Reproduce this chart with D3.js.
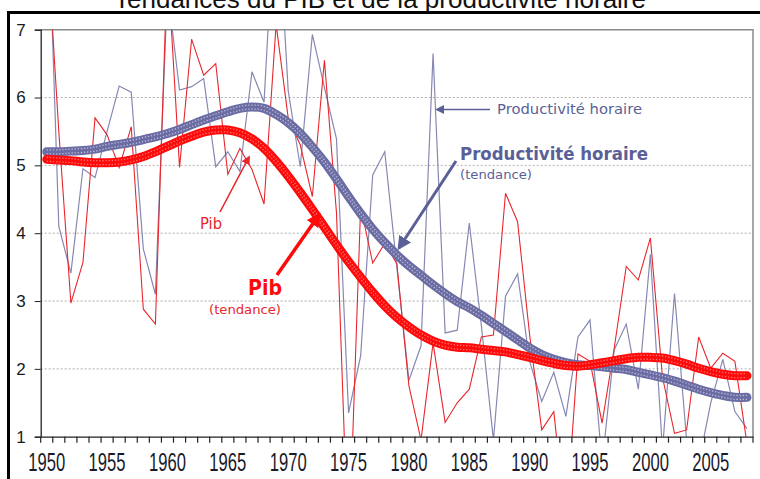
<!DOCTYPE html>
<html><head><meta charset="utf-8">
<script src="https://cdn.jsdelivr.net/npm/d3@7"></script>
<style>body{margin:0;background:#fff;} svg{display:block;}</style>
</head><body>
<svg id="c" width="760" height="479"></svg>
<script>
const title = "Tendances du PIB et de la productivité horaire";
const years = [1950,1951,1952,1953,1954,1955,1956,1957,1958,1959,
  1960,1961,1962,1963,1964,1965,1966,1967,1968,1969,
  1970,1971,1972,1973,1974,1975,1976,1977,1978,1979,
  1980,1981,1982,1983,1984,1985,1986,1987,1988,1989,
  1990,1991,1992,1993,1994,1995,1996,1997,1998,1999,
  2000,2001,2002,2003,2004,2005,2006,2007,2008];
const xTickLabels = [1950,1955,1960,1965,1970,1975,1980,1985,1990,1995,2000,2005];
const yTickLabels = [1,2,3,4,5,6,7];

// Pib (annual)
const pib = [8.4,5.5,2.97,3.57,5.70,5.45,4.97,5.57,2.88,2.66,
  8.0,4.97,6.86,6.33,6.50,4.87,5.25,4.94,4.43,7.08,
  5.70,5.30,4.54,6.55,4.30,-0.8,4.39,3.56,3.85,3.55,
  1.75,0.95,2.38,1.21,1.50,1.70,2.47,2.50,4.59,4.17,
  2.50,1.10,1.37,-0.3,2.22,2.11,1.20,2.30,3.51,3.31,
  3.93,1.88,1.05,1.10,2.47,2.01,2.23,2.11,0.90];
// Productivité horaire (annual)
const prod = [9.5,4.10,3.41,4.95,4.82,5.50,6.17,6.08,3.77,3.10,
  7.6,6.11,6.16,6.28,4.98,5.20,4.91,6.38,5.93,9.2,
  6.10,4.98,6.93,6.15,5.39,1.35,2.19,4.86,5.20,3.50,
  1.83,2.34,6.65,2.53,2.57,4.15,2.64,0.95,3.07,3.40,
  2.11,1.52,1.95,1.30,2.47,2.72,0.60,2.28,2.66,1.70,
  3.69,0.80,3.11,0.95,0.60,1.50,2.14,1.37,1.12];
// Pib (tendance)
const pibTrend = [5.09,5.08,5.07,5.05,5.04,5.04,5.05,5.08,5.13,5.20,
  5.28,5.36,5.43,5.49,5.52,5.52,5.48,5.39,5.25,5.06,
  4.84,4.60,4.35,4.09,3.83,3.58,3.35,3.13,2.93,2.76,
  2.62,2.50,2.41,2.35,2.32,2.31,2.29,2.27,2.25,2.21,
  2.17,2.12,2.08,2.05,2.04,2.06,2.09,2.12,2.15,2.17,
  2.17,2.16,2.12,2.07,2.01,1.96,1.92,1.90,1.90];
// Productivité horaire (tendance)
const prodTrend = [5.20,5.20,5.21,5.22,5.24,5.28,5.31,5.34,5.38,5.42,
  5.47,5.53,5.60,5.67,5.73,5.79,5.84,5.86,5.84,5.75,
  5.63,5.47,5.27,5.05,4.80,4.54,4.29,4.06,3.86,3.68,
  3.52,3.38,3.24,3.11,2.99,2.90,2.79,2.67,2.55,2.43,
  2.31,2.21,2.14,2.09,2.06,2.05,2.03,2.01,1.99,1.95,
  1.91,1.87,1.82,1.76,1.70,1.65,1.61,1.58,1.58];

const svg = d3.select("#c");
const L = 40.7, R = 753, T = 29.7, B = 436.7;
const x = d3.scaleBand().domain(years).range([L, R]).padding(0);
const y = d3.scaleLinear().domain([1, 7]).range([B, T]);
const cx = d => x(d) + x.bandwidth() / 2;

const RED = "#e8262c", REDT = "#ff0a0a", BLUE = "#8688b2", BLUET = "#6a6ca3", BLUETXT = "#5b5f97";

// defs
const defs = svg.append("defs");
defs.append("clipPath").attr("id", "plot").append("rect")
  .attr("x", L).attr("y", T).attr("width", R - L).attr("height", B - T);
function marker(id, color, size) {
  defs.append("marker").attr("id", id).attr("viewBox", "0 0 10 10")
    .attr("refX", 8).attr("refY", 5).attr("markerUnits", "userSpaceOnUse")
    .attr("markerWidth", size).attr("markerHeight", size).attr("orient", "auto")
    .append("path").attr("d", "M0,0 L10,5 L0,10 z").attr("fill", color);
}
marker("mRedS", RED, 9);
marker("mRedB", REDT, 14);
marker("mBlueS", BLUETXT, 9);
marker("mBlueB", BLUETXT, 14);

// title (partly cut at top, as in the original image)
svg.append("text").attr("x", 380).attr("y", 8).attr("text-anchor", "middle")
  .style("font-family", "'Liberation Sans', Arial, sans-serif").style("font-size", "26px")
  .attr("fill", "#111").attr("textLength", 532).attr("lengthAdjust", "spacingAndGlyphs").text(title);

// outer frame
svg.append("path").attr("d", "M8.5,479 V12.5 H760").attr("fill", "none")
  .attr("stroke", "#000").attr("stroke-width", 3);

// gridlines
svg.append("g").selectAll("line").data(yTickLabels.filter(v => v > 1 && v < 7)).join("line")
  .attr("x1", L).attr("x2", R).attr("y1", d => y(d)).attr("y2", d => y(d))
  .attr("stroke", "#9a9a9a").attr("stroke-width", 0.8).attr("stroke-dasharray", "2,2");
// top and right border
svg.append("path").attr("d", `M${L},${y(7)} H${R} V${B}`).attr("fill", "none")
  .attr("stroke", "#8a8a8a").attr("stroke-width", 1.5);

const plot = svg.append("g").attr("clip-path", "url(#plot)");
const lineGen = arr => d3.line().x((d, i) => cx(years[i])).y(d => y(d))(arr);
const smoothGen = arr => d3.line().curve(d3.curveCatmullRom.alpha(0.5)).x((d, i) => cx(years[i])).y(d => y(d))(arr);

plot.append("path").attr("d", lineGen(prod)).attr("fill", "none").attr("stroke", BLUE).attr("stroke-width", 1.2);
plot.append("path").attr("d", lineGen(pib)).attr("fill", "none").attr("stroke", RED).attr("stroke-width", 1.1);

function trend(arr, color, dot) {
  const d = smoothGen(arr);
  const g = plot.append("g");
  g.append("path").attr("d", d).attr("fill", "none").attr("stroke", color).attr("stroke-width", 9).attr("stroke-linecap", "round");
  [-2, 2].forEach(o => {
    g.append("path").attr("d", d).attr("transform", `translate(0,${o})`).attr("fill", "none")
      .attr("stroke", dot).attr("stroke-width", 1.3).attr("stroke-dasharray", "1.3,1.8").attr("opacity", 0.55);
  });
}
trend(prodTrend, BLUET, "#ffffff");
trend(pibTrend, REDT, "#ffc8c8");

// axes
const gx = svg.append("g").attr("transform", `translate(0,${B})`)
  .call(d3.axisBottom(x).tickValues(xTickLabels).tickSize(0).tickPadding(0));
gx.select(".domain").attr("stroke", "#222").attr("stroke-width", 1.3);
gx.selectAll("text").attr("y", 34).attr("dy", null)
  .style("font-family", "'Liberation Sans', Arial, sans-serif").style("font-size", "25px")
  .attr("fill", "#1a1a2a").attr("textLength", 37).attr("lengthAdjust", "spacingAndGlyphs");
svg.append("g").selectAll("line").data(years.concat([null])).join("line")
  .attr("x1", d => d === null ? R : x(d)).attr("x2", d => d === null ? R : x(d))
  .attr("y1", B).attr("y2", B + 6).attr("stroke", "#222").attr("stroke-width", 1.2);

const gy = svg.append("g").attr("transform", `translate(${L},0)`)
  .call(d3.axisLeft(y).tickValues(yTickLabels).tickSize(6).tickPadding(9).tickFormat(d3.format("d")));
gy.select(".domain").attr("stroke", "#222").attr("stroke-width", 1.3);
gy.selectAll(".tick line").attr("stroke", "#222");
gy.selectAll("text").style("font-family", "'Liberation Sans', Arial, sans-serif").style("font-size", "17px").attr("fill", "#1a1a1a");

// annotations
const ann = svg.append("g");
ann.append("text").attr("x", 497).attr("y", 113.5).attr("fill", BLUETXT)
  .style("font-family", "'DejaVu Sans', Verdana, sans-serif").style("font-size", "14.5px")
  .attr("textLength", 145).attr("lengthAdjust", "spacingAndGlyphs").text("Productivité horaire");
ann.append("line").attr("x1", 490).attr("y1", 109.5).attr("x2", 437).attr("y2", 109.5)
  .attr("stroke", BLUETXT).attr("stroke-width", 1.6).attr("marker-end", "url(#mBlueS)");

ann.append("text").attr("x", 460).attr("y", 159.5).attr("fill", BLUETXT)
  .style("font-family", "'DejaVu Sans', Verdana, sans-serif").style("font-size", "17px").style("font-weight", "bold")
  .attr("textLength", 188).attr("lengthAdjust", "spacingAndGlyphs").text("Productivité horaire");
ann.append("text").attr("x", 460).attr("y", 179).attr("fill", BLUETXT)
  .style("font-family", "'DejaVu Sans', Verdana, sans-serif").style("font-size", "13px")
  .attr("textLength", 72).attr("lengthAdjust", "spacingAndGlyphs").text("(tendance)");
ann.append("line").attr("x1", 456).attr("y1", 161).attr("x2", 399).attr("y2", 248)
  .attr("stroke", BLUETXT).attr("stroke-width", 3).attr("marker-end", "url(#mBlueB)");

ann.append("text").attr("x", 200).attr("y", 229).attr("fill", RED)
  .style("font-family", "'DejaVu Sans', Verdana, sans-serif").style("font-size", "15px")
  .attr("textLength", 22).attr("lengthAdjust", "spacingAndGlyphs").text("Pib");
ann.append("line").attr("x1", 220).attr("y1", 212).attr("x2", 249).attr("y2", 157)
  .attr("stroke", RED).attr("stroke-width", 1.6).attr("marker-end", "url(#mRedS)");

ann.append("text").attr("x", 248).attr("y", 295).attr("fill", REDT)
  .style("font-family", "'DejaVu Sans', Verdana, sans-serif").style("font-size", "22px").style("font-weight", "bold")
  .attr("textLength", 34).attr("lengthAdjust", "spacingAndGlyphs").text("Pib");
ann.append("text").attr("x", 209).attr("y", 313.5).attr("fill", RED)
  .style("font-family", "'DejaVu Sans', Verdana, sans-serif").style("font-size", "13px")
  .attr("textLength", 72).attr("lengthAdjust", "spacingAndGlyphs").text("(tendance)");
ann.append("line").attr("x1", 277).attr("y1", 275).attr("x2", 319).attr("y2", 215)
  .attr("stroke", REDT).attr("stroke-width", 3.5).attr("marker-end", "url(#mRedB)");
</script>
</body></html>
